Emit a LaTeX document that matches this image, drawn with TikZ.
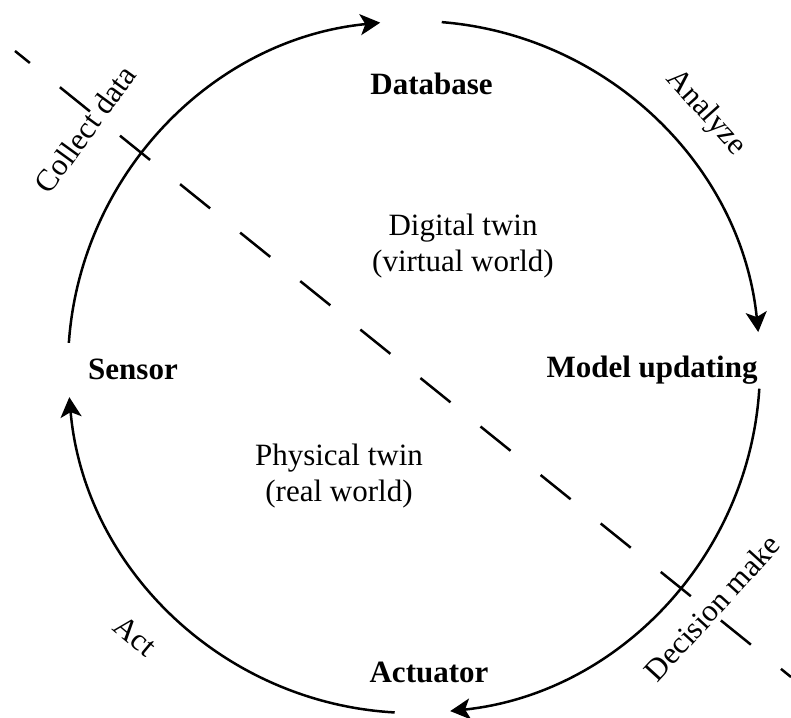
\documentclass[tikz,border=0pt]{standalone}
\usepackage{fontspec}
\setmainfont{Liberation Serif}
\usetikzlibrary{arrows.meta,calc}
\begin{document}
\begin{tikzpicture}[x=1pt,y=1pt,
  arcline/.style={line width=2.5pt},
  arr/.style={arcline,-{Stealth[length=20pt,width=21pt,inset=5pt]}},
  stage/.style={font=\bfseries\fontsize{31}{36}\selectfont, inner sep=0pt, anchor=base},
  lbl/.style={font=\fontsize{31}{36}\selectfont, inner sep=0pt},
  world/.style={font=\fontsize{31}{36}\selectfont, align=center, inner sep=0pt},
  divide/.style={line width=2.5pt, dash pattern=on 38.6pt off 38.6pt, dash phase=19.5pt}]
\useasboundingbox (0,0) rectangle (791,717);
\fill[white] (0,0) rectangle (791,717);
\coordinate (c) at (414,350);
\def\R{346}
% stage nodes
\node[stage] (db) at (431.5,622) {Database};
\node[stage] (sensor) at (133,337) {Sensor};
\node[stage] (model) at (652,339) {Model updating};
\node[stage] (actuator) at (429,35) {Actuator};
% arc end points
\coordinate (a1) at ($(c)+(176:\R)$);
\coordinate (b1) at ($(c)+(85.4:\R)$);
\coordinate (c1) at ($(c)+(-3.6:\R)$);
\coordinate (d1) at ($(c)+(266.8:\R)$);
\draw[arr] (a1) arc[start angle=176,end angle=95.6,radius=\R];
\draw[arr] (b1) arc[start angle=85.4,end angle=5.8,radius=\R];
\draw[arr] (c1) arc[start angle=-3.6,end angle=-84,radius=\R];
\draw[arr] (d1) arc[start angle=266.8,end angle=185,radius=\R];
% arc labels
\node[lbl, rotate=54] (collect) at (85,588) {Collect data};
\node[lbl, rotate=-48] (analyze) at (706,604) {Analyze};
\node[lbl, rotate=47.6] (decision) at (712,109) {Decision make};
\node[lbl, rotate=-40] (actlbl) at (135,81) {Act};
% worlds
\node[world] (digital) at (463,471) {Digital twin\\(virtual world)};
\node[world] (physical) at (339,241) {Physical twin\\(real world)};
% dividing line
\coordinate (d0) at (15,666);
\coordinate (d9) at (791,40);
\draw[divide] (d0) -- (d9);
\end{tikzpicture}
\end{document}
